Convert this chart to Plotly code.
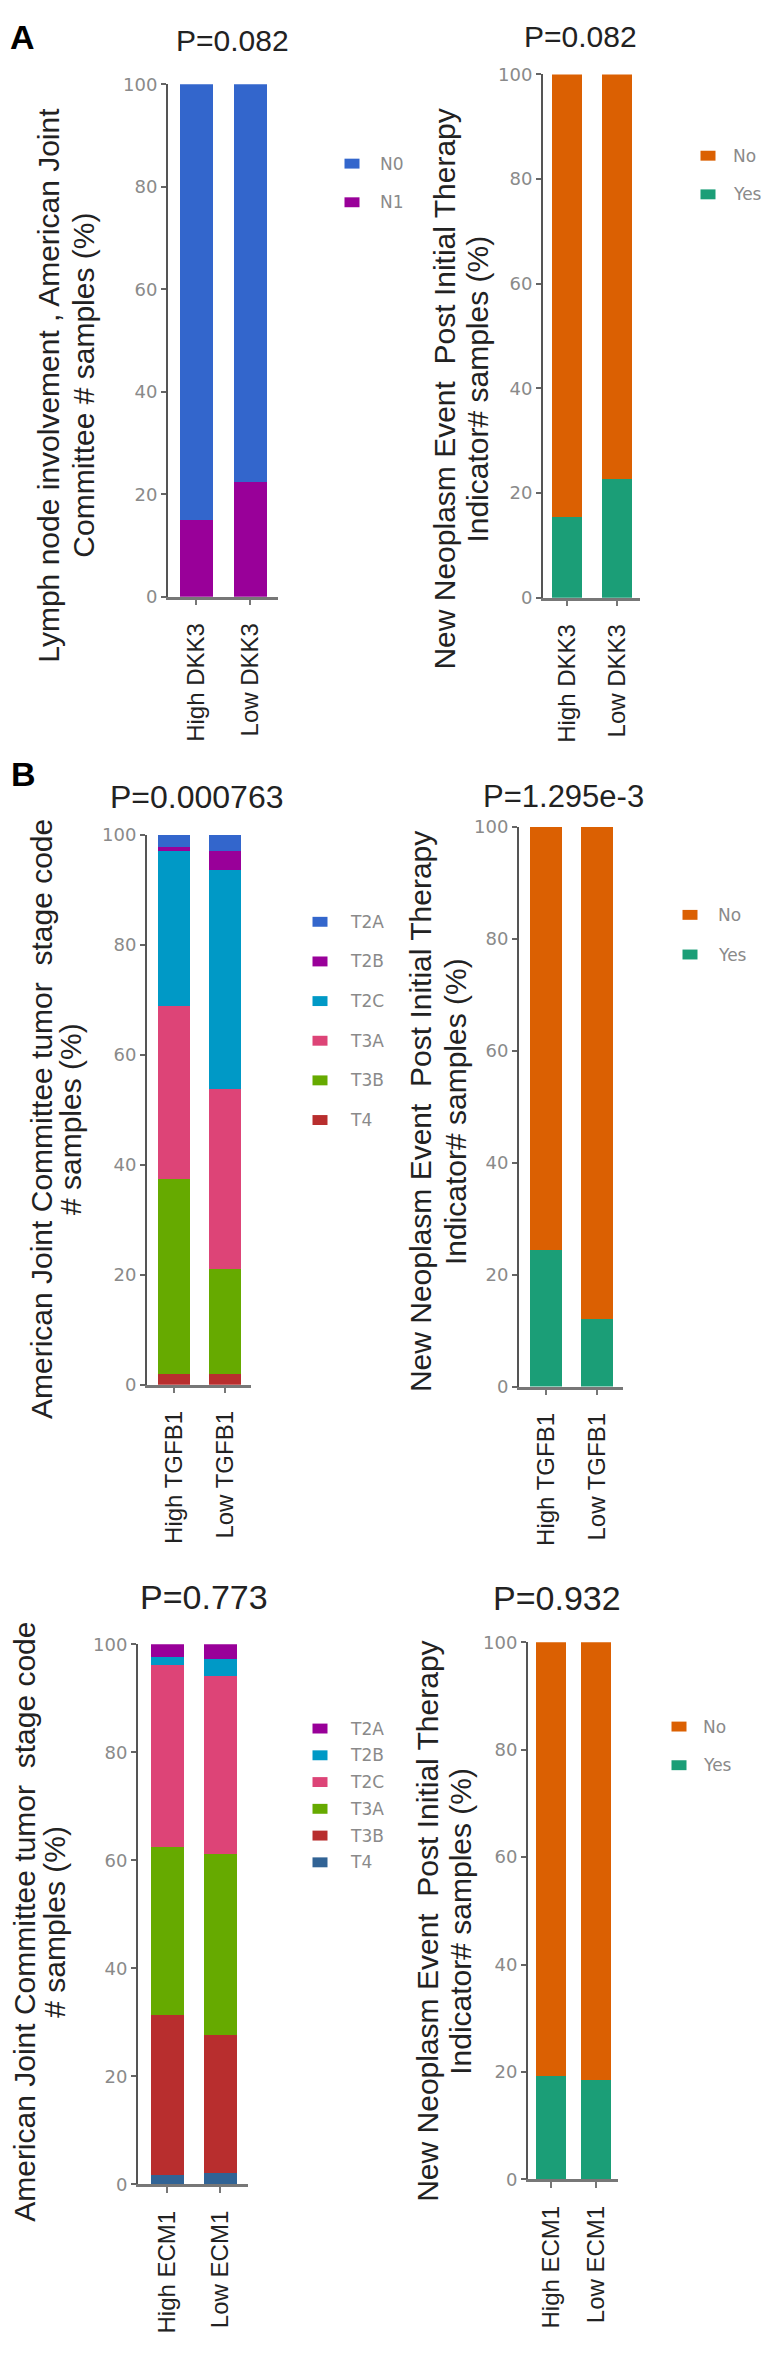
import plotly.graph_objects as go

W, H = 772, 2354

# ---- data: percent of samples in each group ----
dkk3_groups = ["High DKK3", "Low DKK3"]
tgfb1_groups = ["High TGFB1", "Low TGFB1"]
ecm1_groups = ["High ECM1", "Low ECM1"]

lymph_n1 = [15.0, 22.3]
lymph_n0 = [85.0, 77.7]

dkk3_neo_yes = [15.5, 22.6]
dkk3_neo_no = [84.5, 77.4]

stage_names = ["T4", "T3B", "T3A", "T2C", "T2B", "T2A"]  # bottom -> top of stack
tgfb1_stage_high = [2.0, 35.4, 31.4, 28.3, 0.6, 2.3]
tgfb1_stage_low = [2.0, 19.0, 32.7, 39.8, 3.6, 2.9]

tgfb1_neo_yes = [24.4, 12.1]
tgfb1_neo_no = [75.6, 87.9]

ecm1_stage_high = [1.7, 29.6, 31.1, 33.7, 1.6, 2.3]
ecm1_stage_low = [2.1, 25.6, 33.5, 33.0, 3.1, 2.7]

ecm1_neo_yes = [19.2, 18.5]
ecm1_neo_no = [80.8, 81.5]

p_labels = ["P=0.082", "P=0.082", "P=0.000763", "P=1.295e-3", "P=0.773", "P=0.932"]

# colours
c_n0, c_n1 = "#3366CC", "#990099"
c_no, c_yes = "#DB6002", "#1B9E77"
tgfb1_stage_colors = ["#B82E2E", "#66AA00", "#DD4477", "#0099C6", "#990099", "#3366CC"]
ecm1_stage_colors = ["#316395", "#B82E2E", "#66AA00", "#DD4477", "#0099C6", "#990099"]

ARIAL = "Liberation Sans, Arial"
GREY_FONT = "DejaVu Sans"
GREY = "#8a8a8a"


def fx(x):
    return x / W


def fy(y):
    return 1 - y / H


# panel geometry in pixels: y-axis x, x-axis end, y(100), y(0), bar centres, bar width
panels = [
    dict(ax=168, end=278, top=74, bot=591, c0=196, c1=250, bw=33),
    dict(ax=543, end=640, top=64, bot=592, c0=567, c1=617, bw=30),
    dict(ax=147, end=251, top=831, bot=1386, c0=174, c1=225, bw=32),
    dict(ax=519, end=623, top=823, bot=1388, c0=546, c1=597, bw=32),
    dict(ax=138, end=248, top=1648, bot=2193, c0=167, c1=220, bw=33),
    dict(ax=528, end=618, top=1646, bot=2188, c0=551, c1=596, bw=30),
]

fig = go.Figure()

# (panel index, groups, list of (name, values, colour)) stacked bottom -> top
series = [
    (0, dkk3_groups, [("N1", lymph_n1, c_n1), ("N0", lymph_n0, c_n0)]),
    (1, dkk3_groups, [("Yes", dkk3_neo_yes, c_yes), ("No", dkk3_neo_no, c_no)]),
    (2, tgfb1_groups, [(n, [h, l], c) for n, h, l, c in
                       zip(stage_names, tgfb1_stage_high, tgfb1_stage_low, tgfb1_stage_colors)]),
    (3, tgfb1_groups, [("Yes", tgfb1_neo_yes, c_yes), ("No", tgfb1_neo_no, c_no)]),
    (4, ecm1_groups, [(n, [h, l], c) for n, h, l, c in
                      zip(stage_names, ecm1_stage_high, ecm1_stage_low, ecm1_stage_colors)]),
    (5, ecm1_groups, [("Yes", ecm1_neo_yes, c_yes), ("No", ecm1_neo_no, c_no)]),
]

for idx, groups, traces in series:
    p = panels[idx]
    width = p["bw"] / (p["c1"] - p["c0"])
    sfx = "" if idx == 0 else str(idx + 1)
    for name, vals, col in traces:
        fig.add_trace(go.Bar(
            x=groups, y=vals, name=name, width=width,
            marker=dict(color=col, line=dict(width=0)),
            xaxis="x" + sfx, yaxis="y" + sfx, showlegend=False,
        ))

layout = dict(
    width=W, height=H, margin=dict(l=0, r=0, t=0, b=0),
    paper_bgcolor="white", plot_bgcolor="white",
    barmode="stack", showlegend=False,
)

for idx, p in enumerate(panels):
    sfx = "" if idx == 0 else str(idx + 1)
    sp = p["c1"] - p["c0"]
    lo = (p["ax"] - p["c0"]) / sp
    hi = (p["end"] - p["c0"]) / sp
    layout["xaxis" + sfx] = dict(
        domain=[fx(p["ax"]), fx(p["end"])], anchor="y" + sfx, type="category",
        range=[lo, hi], showline=True, linecolor="#777", linewidth=2.5,
        ticks="outside", ticklen=6, tickwidth=2, tickcolor="#777",
        tickangle=-90, ticklabelstandoff=8,
        tickfont=dict(family=ARIAL, size=24, color="#222"),
        showgrid=False, zeroline=False, fixedrange=True,
    )
    layout["yaxis" + sfx] = dict(
        domain=[fy(p["bot"]), fy(p["top"])], anchor="x" + sfx,
        range=[0, 100], tickvals=[0, 20, 40, 60, 80, 100],
        showline=True, linecolor="#555", linewidth=2,
        ticks="outside", ticklen=5, tickwidth=2, tickcolor="#666",
        tickfont=dict(family=GREY_FONT, size=18, color=GREY),
        showgrid=False, zeroline=False, fixedrange=True,
    )

fig.update_layout(**layout)

# legends drawn as swatch + label: (swatch centre x, text x, first row y, row step)
legend_pos = [(352, 378, 154, 39), (708, 731, 146, 39), (320, 348, 919, 40),
              (690, 716, 912, 40), (320, 348, 1733, 27), (679, 701, 1731, 39)]
for (idx, groups, traces), (sx, tx, y0, step) in zip(series, legend_pos):
    for row, (name, vals, col) in enumerate(reversed(traces)):
        yc = y0 + row * step
        fig.add_shape(type="rect", xref="paper", yref="paper",
                      x0=fx(sx - 7.5), x1=fx(sx + 7.5), y0=fy(yc + 5), y1=fy(yc - 5),
                      fillcolor=col, line=dict(width=0))
        fig.add_annotation(text=name, x=fx(tx), y=fy(yc), xref="paper", yref="paper",
                           showarrow=False, xanchor="left", yanchor="middle",
                           font=dict(family=GREY_FONT, size=17, color=GREY))

# panel letters
for letter, (x, y) in zip(["A", "B"], [(22, 26), (23, 770)]):
    fig.add_annotation(text="<b>%s</b>" % letter, x=fx(x), y=fy(y), xref="paper", yref="paper",
                       showarrow=False, xanchor="center", yanchor="middle",
                       font=dict(family=ARIAL, size=34, color="black"))

# P-value titles
title_pos = [(232, 30), (580, 26), (197, 793), (563, 793), (204, 1600), (557, 1601)]
title_size = [30, 30, 32, 31, 34, 34]
for i, (txt, (x, y)) in enumerate(zip(p_labels, title_pos)):
    fam = "Liberation Sans Narrow, " + ARIAL if i >= 4 else ARIAL
    fig.add_annotation(text=txt, x=fx(x), y=fy(y), xref="paper", yref="paper",
                       showarrow=False, xanchor="center", yanchor="middle",
                       font=dict(family=fam, size=title_size[i], color="#222"))

# y-axis titles: each line placed on its own (line1, line2, x1, x2, centre y)
ytitles = [
    ("Lymph node involvement , American Joint", "Committee # samples (%)", 49, 84, 378),
    ("New Neoplasm Event  Post Initial Therapy", "Indicator# samples (%)", 445, 478, 382),
    ("American Joint Committee tumor  stage code", "# samples (%)", 41, 70, 1118),
    ("New Neoplasm Event  Post Initial Therapy", "Indicator# samples (%)", 420, 455, 1111),
    ("American Joint Committee tumor  stage code", "# samples (%)", 25, 55, 1928),
    ("New Neoplasm Event  Post Initial Therapy", "Indicator# samples (%)", 428, 461, 1928),
]
for l1, l2, x1, x2, y in ytitles:
    for txt, x in ((l1, x1), (l2, x2)):
        fig.add_annotation(text=txt, x=fx(x), y=fy(y), xref="paper", yref="paper",
                           showarrow=False, xanchor="center", yanchor="middle", textangle=-90,
                           font=dict(family=ARIAL, size=30, color="#222"))

# page body margin would push the fixed-size figure off the window
fig.write_html("out.html", config={"displayModeBar": False},
               post_script="document.body.style.margin='0';document.body.style.overflow='hidden';")
